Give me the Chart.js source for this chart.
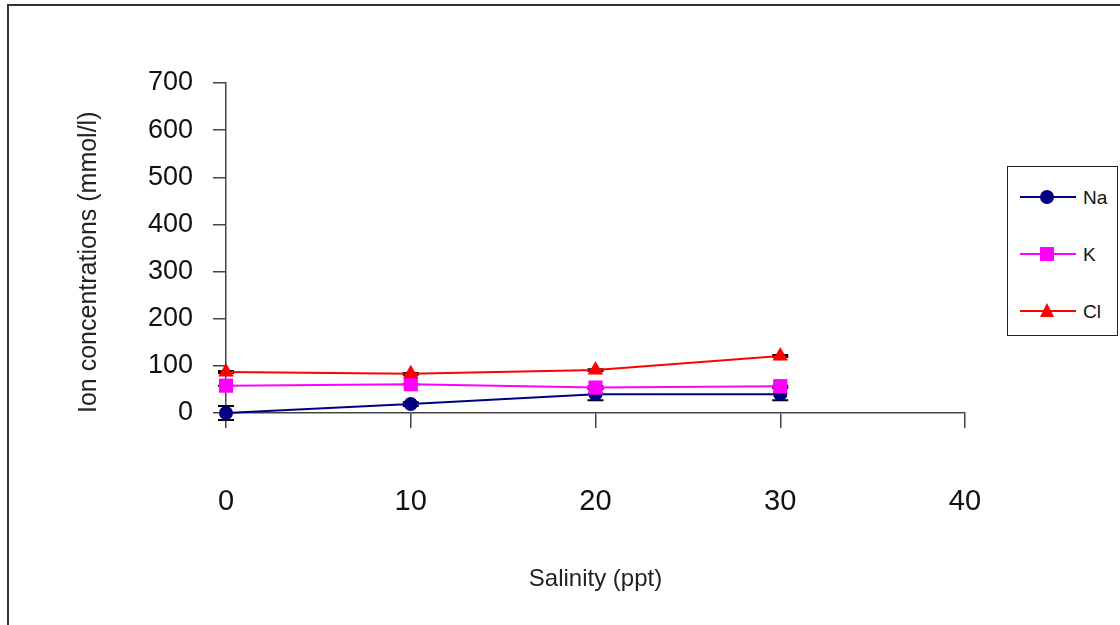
<!DOCTYPE html>
<html>
<head>
<meta charset="utf-8">
<script src="https://cdn.jsdelivr.net/npm/chart.js@4.4.0/dist/chart.umd.min.js"></script>
<style>
  html, body { margin: 0; padding: 0; background: #fff; overflow: hidden; }
  #wrap { position: relative; width: 1120px; height: 625px; overflow: hidden; }
  #frame { position: absolute; left: 7px; top: 4px; width: 1300px; height: 800px; border: 2px solid #333; box-sizing: border-box; pointer-events: none; }
  canvas { position: absolute; left: 0; top: 0; }
  #legend { position: absolute; left: 1007px; top: 166px; width: 111px; height: 170px; border: 1px solid #222; box-sizing: border-box; background: #fff;
            font-family: "Liberation Sans", Arial, sans-serif; font-size: 19px; color: #111; }
  .item { position: absolute; left: 0; width: 110px; height: 20px; }
  .line { position: absolute; left: 12px; width: 56px; top: 9px; height: 2px; }
  .mk { position: absolute; }
  .lbl { position: absolute; left: 75px; top: 1px; line-height: 20px; }
</style>
</head>
<body>
<div id="wrap">
  <canvas id="c" width="1120" height="625"></canvas>
  <div id="frame"></div>
  <div id="legend"></div>
</div>
<script>
// ---- data ----
const salinity = [0, 10, 20, 30];
const seriesNames = ["Na", "K", "Cl"];
const naValues = [0, 19, 40, 40];
const kValues = [58, 61, 54, 57];
const clValues = [87, 83, 91, 121];
const naErrors = [15, 4, 13, 13];
const kErrors = [0, 0, 3, 1];
const clErrors = [2, 2, 2, 2];
const xTicks = [0, 10, 20, 30, 40];
const yTicks = [0, 100, 200, 300, 400, 500, 600, 700];

const colors = ["#000080", "#FF00FF", "#FF0000"];
const styles = ["circle", "rect", "triangle"];
const radii = [7, 10, 9];
const allValues = [naValues, kValues, clValues];
const allErrors = [naErrors, kErrors, clErrors];

const datasets = seriesNames.map((name, i) => ({
  label: name,
  data: salinity.map((x, j) => ({ x: x, y: allValues[i][j] })),
  errors: allErrors[i],
  borderColor: colors[i],
  backgroundColor: colors[i],
  pointBackgroundColor: colors[i],
  pointBorderColor: colors[i],
  pointStyle: styles[i],
  pointRadius: radii[i],
  pointBorderWidth: 0,
  borderWidth: 2,
  tension: 0,
  clip: false,
  order: 3 - i
}));

// error bars, drawn under each dataset's markers
const errorBars = {
  id: 'errorBars',
  beforeDatasetDraw(chart, args) {
    const ds = chart.data.datasets[args.index];
    const meta = args.meta;
    const ys = chart.scales.y;
    const ctx = chart.ctx;
    ctx.save();
    ctx.strokeStyle = '#000';
    ctx.lineWidth = 2;
    meta.data.forEach((pt, j) => {
      const v = ds.data[j].y, e = ds.errors[j];
      const y1 = ys.getPixelForValue(v + e), y2 = ys.getPixelForValue(v - e);
      const x = pt.x;
      ctx.beginPath();
      ctx.moveTo(x, y1); ctx.lineTo(x, y2);
      ctx.moveTo(x - 8, y1); ctx.lineTo(x + 8, y1);
      ctx.moveTo(x - 8, y2); ctx.lineTo(x + 8, y2);
      ctx.stroke();
    });
    ctx.restore();
  }
};

const fam = '"Liberation Sans", Arial, sans-serif';

new Chart(document.getElementById('c'), {
  type: 'line',
  data: { datasets: datasets },
  options: {
    responsive: false,
    animation: false,
    layout: { padding: { left: 0, top: 83, right: 155, bottom: 0 } },
    plugins: { legend: { display: false }, tooltip: { enabled: false } },
    scales: {
      x: {
        type: 'linear', min: 0, max: 40,
        afterFit(s) { s.height = 212; },
        afterBuildTicks(s) { s.ticks = xTicks.map(v => ({ value: v })); },
        border: { display: true, color: '#444', width: 1.5 },
        grid: { display: true, drawOnChartArea: false, drawTicks: true, tickLength: 15, color: '#444', lineWidth: 1.5 },
        ticks: { padding: 57, color: '#111', font: { family: fam, size: 29 } },
        title: { display: true, text: 'Salinity (ppt)', color: '#222', font: { family: fam, size: 24 }, padding: { top: 0, bottom: 31 } }
      },
      y: {
        type: 'linear', min: 0, max: 700,
        afterFit(s) { s.width = 226; },
        afterBuildTicks(s) { s.ticks = yTicks.map(v => ({ value: v })); },
        border: { display: true, color: '#444', width: 1.5 },
        grid: { display: true, drawOnChartArea: false, drawTicks: true, tickLength: 13, color: '#444', lineWidth: 1.5 },
        ticks: { padding: 20, color: '#111', font: { family: fam, size: 27 } },
        title: { display: true, text: 'Ion concentrations (mmol/l)', align: 'start', color: '#222', font: { family: fam, size: 25 }, padding: { top: 74, bottom: 0 } }
      }
    }
  },
  plugins: [errorBars]
});

// legend (line + marker + text)
const legend = document.getElementById('legend');
const rowTops = [20, 77, 134];
seriesNames.forEach((name, i) => {
  const item = document.createElement('div');
  item.className = 'item';
  item.style.top = rowTops[i] + 'px';
  const line = document.createElement('div');
  line.className = 'line';
  line.style.background = colors[i];
  item.appendChild(line);
  const mk = document.createElement('div');
  mk.className = 'mk';
  if (i === 0) {
    Object.assign(mk.style, { left: '32px', top: '3px', width: '14px', height: '14px', borderRadius: '50%', background: colors[i] });
  } else if (i === 1) {
    Object.assign(mk.style, { left: '32px', top: '3px', width: '14px', height: '14px', background: colors[i] });
  } else {
    Object.assign(mk.style, { left: '32px', top: '2px', width: '0', height: '0', borderLeft: '7px solid transparent', borderRight: '7px solid transparent', borderBottom: '14px solid ' + colors[i] });
  }
  item.appendChild(mk);
  const lbl = document.createElement('div');
  lbl.className = 'lbl';
  lbl.textContent = name;
  item.appendChild(lbl);
  legend.appendChild(item);
});
</script>
</body>
</html>
